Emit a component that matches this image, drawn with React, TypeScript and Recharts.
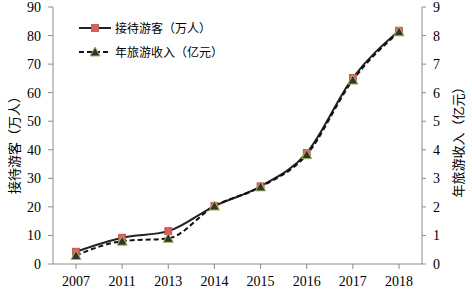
import { LineChart, Line, XAxis, YAxis } from 'recharts';

const years = ['2007', '2011', '2013', '2014', '2015', '2016', '2017', '2018'];
const visitors = [4.3, 9.2, 11.5, 20.3, 27.2, 38.9, 65.2, 81.7];
const revenue = [0.3, 0.8, 0.9, 2.03, 2.7, 3.83, 6.44, 8.13];
const leftTicks = [0, 10, 20, 30, 40, 50, 60, 70, 80, 90];
const rightTicks = [0, 1, 2, 3, 4, 5, 6, 7, 8, 9];

const data = years.map((y, i) => ({ year: y, visitors: visitors[i], revenue: revenue[i] }));

const serif = '"Liberation Serif", "Times New Roman", serif';
const cjk = '"Noto Sans CJK SC", sans-serif';
const axisColor = '#8c8c8c';

const SquareDot = (props: any) => {
    const { cx, cy } = props;
    return <rect x={cx - 3.5} y={cy - 3.5} width={7} height={7} fill="#d9605c" stroke="#c0504d" strokeWidth={0.8} />;
};

const TriDot = (props: any) => {
    const { cx, cy } = props;
    return (
        <polygon
            points={`${cx},${cy - 5} ${cx - 5},${cy + 4} ${cx + 5},${cy + 4}`}
            fill="#333"
            stroke="#9bbb59"
            strokeWidth={1}
        />
    );
};

const vertLabel = (text: string, cx: number, cy: number) => (
    <div
        style={{
            position: 'absolute',
            left: cx,
            top: cy,
            transform: 'translate(-50%, -50%) rotate(-90deg)',
            whiteSpace: 'nowrap',
            fontFamily: cjk,
            fontSize: 13,
            lineHeight: '16px',
            color: '#000',
        }}
    >
        {text}
    </div>
);

export default function App() {
    return (
        <div style={{ position: 'absolute', left: 0, top: 0, width: 472, height: 295, background: '#fff' }}>
            <LineChart width={472} height={295} data={data} margin={{ top: 7, right: 0, left: 0, bottom: 0 }}>
                <XAxis
                    dataKey="year"
                    height={31}
                    padding={{ left: 23, right: 23 }}
                    stroke={axisColor}
                    tickSize={5}
                    tickMargin={7}
                    tick={{ fill: '#000', fontSize: 14, fontFamily: serif }}
                    interval={0}
                />
                <YAxis
                    yAxisId="left"
                    width={53}
                    domain={[0, 90]}
                    ticks={leftTicks}
                    interval={0}
                    stroke={axisColor}
                    tickSize={5}
                    tickMargin={7}
                    tick={{ fill: '#000', fontSize: 14, fontFamily: serif }}
                />
                <YAxis
                    yAxisId="right"
                    orientation="right"
                    width={50}
                    domain={[0, 9]}
                    ticks={rightTicks}
                    interval={0}
                    stroke={axisColor}
                    tickSize={4}
                    tickMargin={7}
                    tick={{ fill: '#000', fontSize: 14, fontFamily: serif }}
                />
                <Line
                    yAxisId="left"
                    dataKey="visitors"
                    name="接待游客（万人）"
                    stroke="#222"
                    strokeWidth={2}
                    dot={<SquareDot />}
                    activeDot={false}
                    type="monotone"
                    isAnimationActive={false}
                />
                <Line
                    yAxisId="right"
                    dataKey="revenue"
                    name="年旅游收入（亿元）"
                    stroke="#111"
                    strokeWidth={2}
                    strokeDasharray="5 3"
                    dot={<TriDot />}
                    activeDot={false}
                    type="monotone"
                    isAnimationActive={false}
                />
            </LineChart>
            {vertLabel('接待游客（万人）', 14, 142)}
            {vertLabel('年旅游收入（亿元）', 458, 139)}
            <div
                style={{
                    position: 'absolute',
                    left: 79,
                    top: 16,
                    fontFamily: cjk,
                    fontSize: 12,
                    color: '#000',
                    lineHeight: '24px',
                }}
            >
                <div style={{ display: 'flex', alignItems: 'center' }}>
                    <svg width={32} height={12}>
                        <line x1={0} y1={6} x2={32} y2={6} stroke="#222" strokeWidth={2} />
                        <rect x={12.5} y={2.5} width={7} height={7} fill="#d9605c" stroke="#c0504d" strokeWidth={0.8} />
                    </svg>
                    <span style={{ marginLeft: 4 }}>接待游客（万人）</span>
                </div>
                <div style={{ display: 'flex', alignItems: 'center' }}>
                    <svg width={32} height={12}>
                        <line x1={0} y1={6} x2={32} y2={6} stroke="#111" strokeWidth={2} strokeDasharray="5 3" />
                        <polygon points="16,1 11,10 21,10" fill="#333" stroke="#9bbb59" strokeWidth={1} />
                    </svg>
                    <span style={{ marginLeft: 4 }}>年旅游收入（亿元）</span>
                </div>
            </div>
        </div>
    );
}
